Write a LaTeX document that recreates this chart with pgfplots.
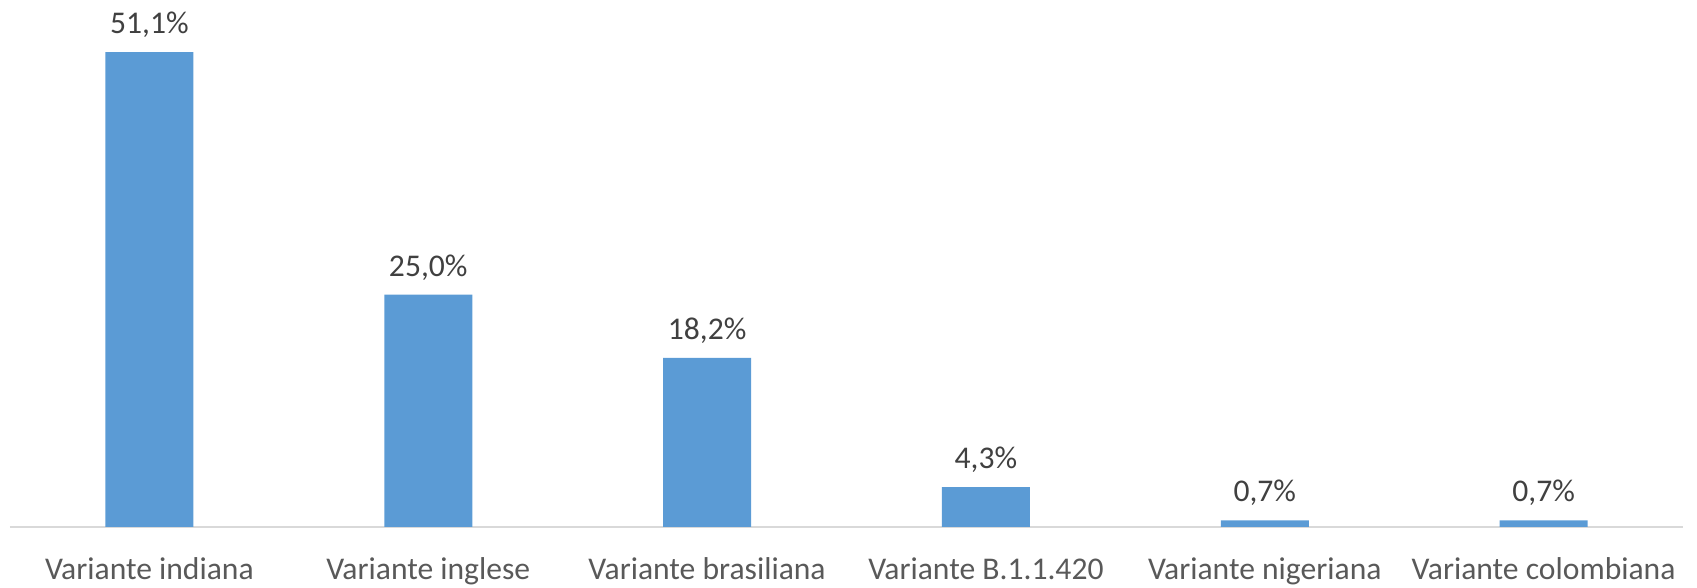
\documentclass[border=0pt]{standalone}
\usepackage{pgfplots}
\pgfplotsset{compat=1.18}
\usepackage{fontspec}
\setmainfont{Carlito}
\usetikzlibrary{calc}
\definecolor{barblue}{HTML}{5B9BD5}
\definecolor{txtgray}{HTML}{404040}
\definecolor{lblgray}{HTML}{595959}
\definecolor{axgray}{HTML}{D9D9D9}
\begin{document}
\begin{tikzpicture}
\begin{axis}[
  scale only axis,
  width=836.5pt, height=263.5pt,
  xmin=-0.5, xmax=5.5,
  ymin=0, ymax=56.7,
  axis x line=bottom,
  axis y line=none,
  axis line style={axgray, line width=1pt, -},
  xtick=data,
  xticklabels={Variante indiana, Variante inglese, Variante brasiliana, Variante B.1.1.420, Variante nigeriana, Variante colombiana},
  major tick length=0pt,
  xticklabel style={font=\fontsize{15.8}{18}\selectfont, text=lblgray, anchor=base, yshift=-26.5pt, inner sep=0pt},
  typeset ticklabels with strut,
  ytick=\empty,
  /pgf/number format/assume math mode=true,
  nodes near coords={\pgfmathprintnumber[fixed,fixed zerofill,precision=1,use comma]{\pgfplotspointmeta}\%},
  nodes near coords style={font=\fontsize{15.8}{18}\selectfont, text=txtgray, anchor=base, yshift=9.25pt, inner sep=0pt},
  clip=false,
]
\addplot[ybar, bar width=44pt, fill=barblue, draw=none] coordinates {
  (0,51.1) (1,25.0) (2,18.2) (3,4.3) (4,0.7) (5,0.7)
};
\end{axis}
\pgfresetboundingbox
\path[use as bounding box] ($(current axis.south west)+(-5pt,-30.5pt)$) rectangle ($(current axis.north east)+(7pt,0pt)$);
\end{tikzpicture}
\end{document}
